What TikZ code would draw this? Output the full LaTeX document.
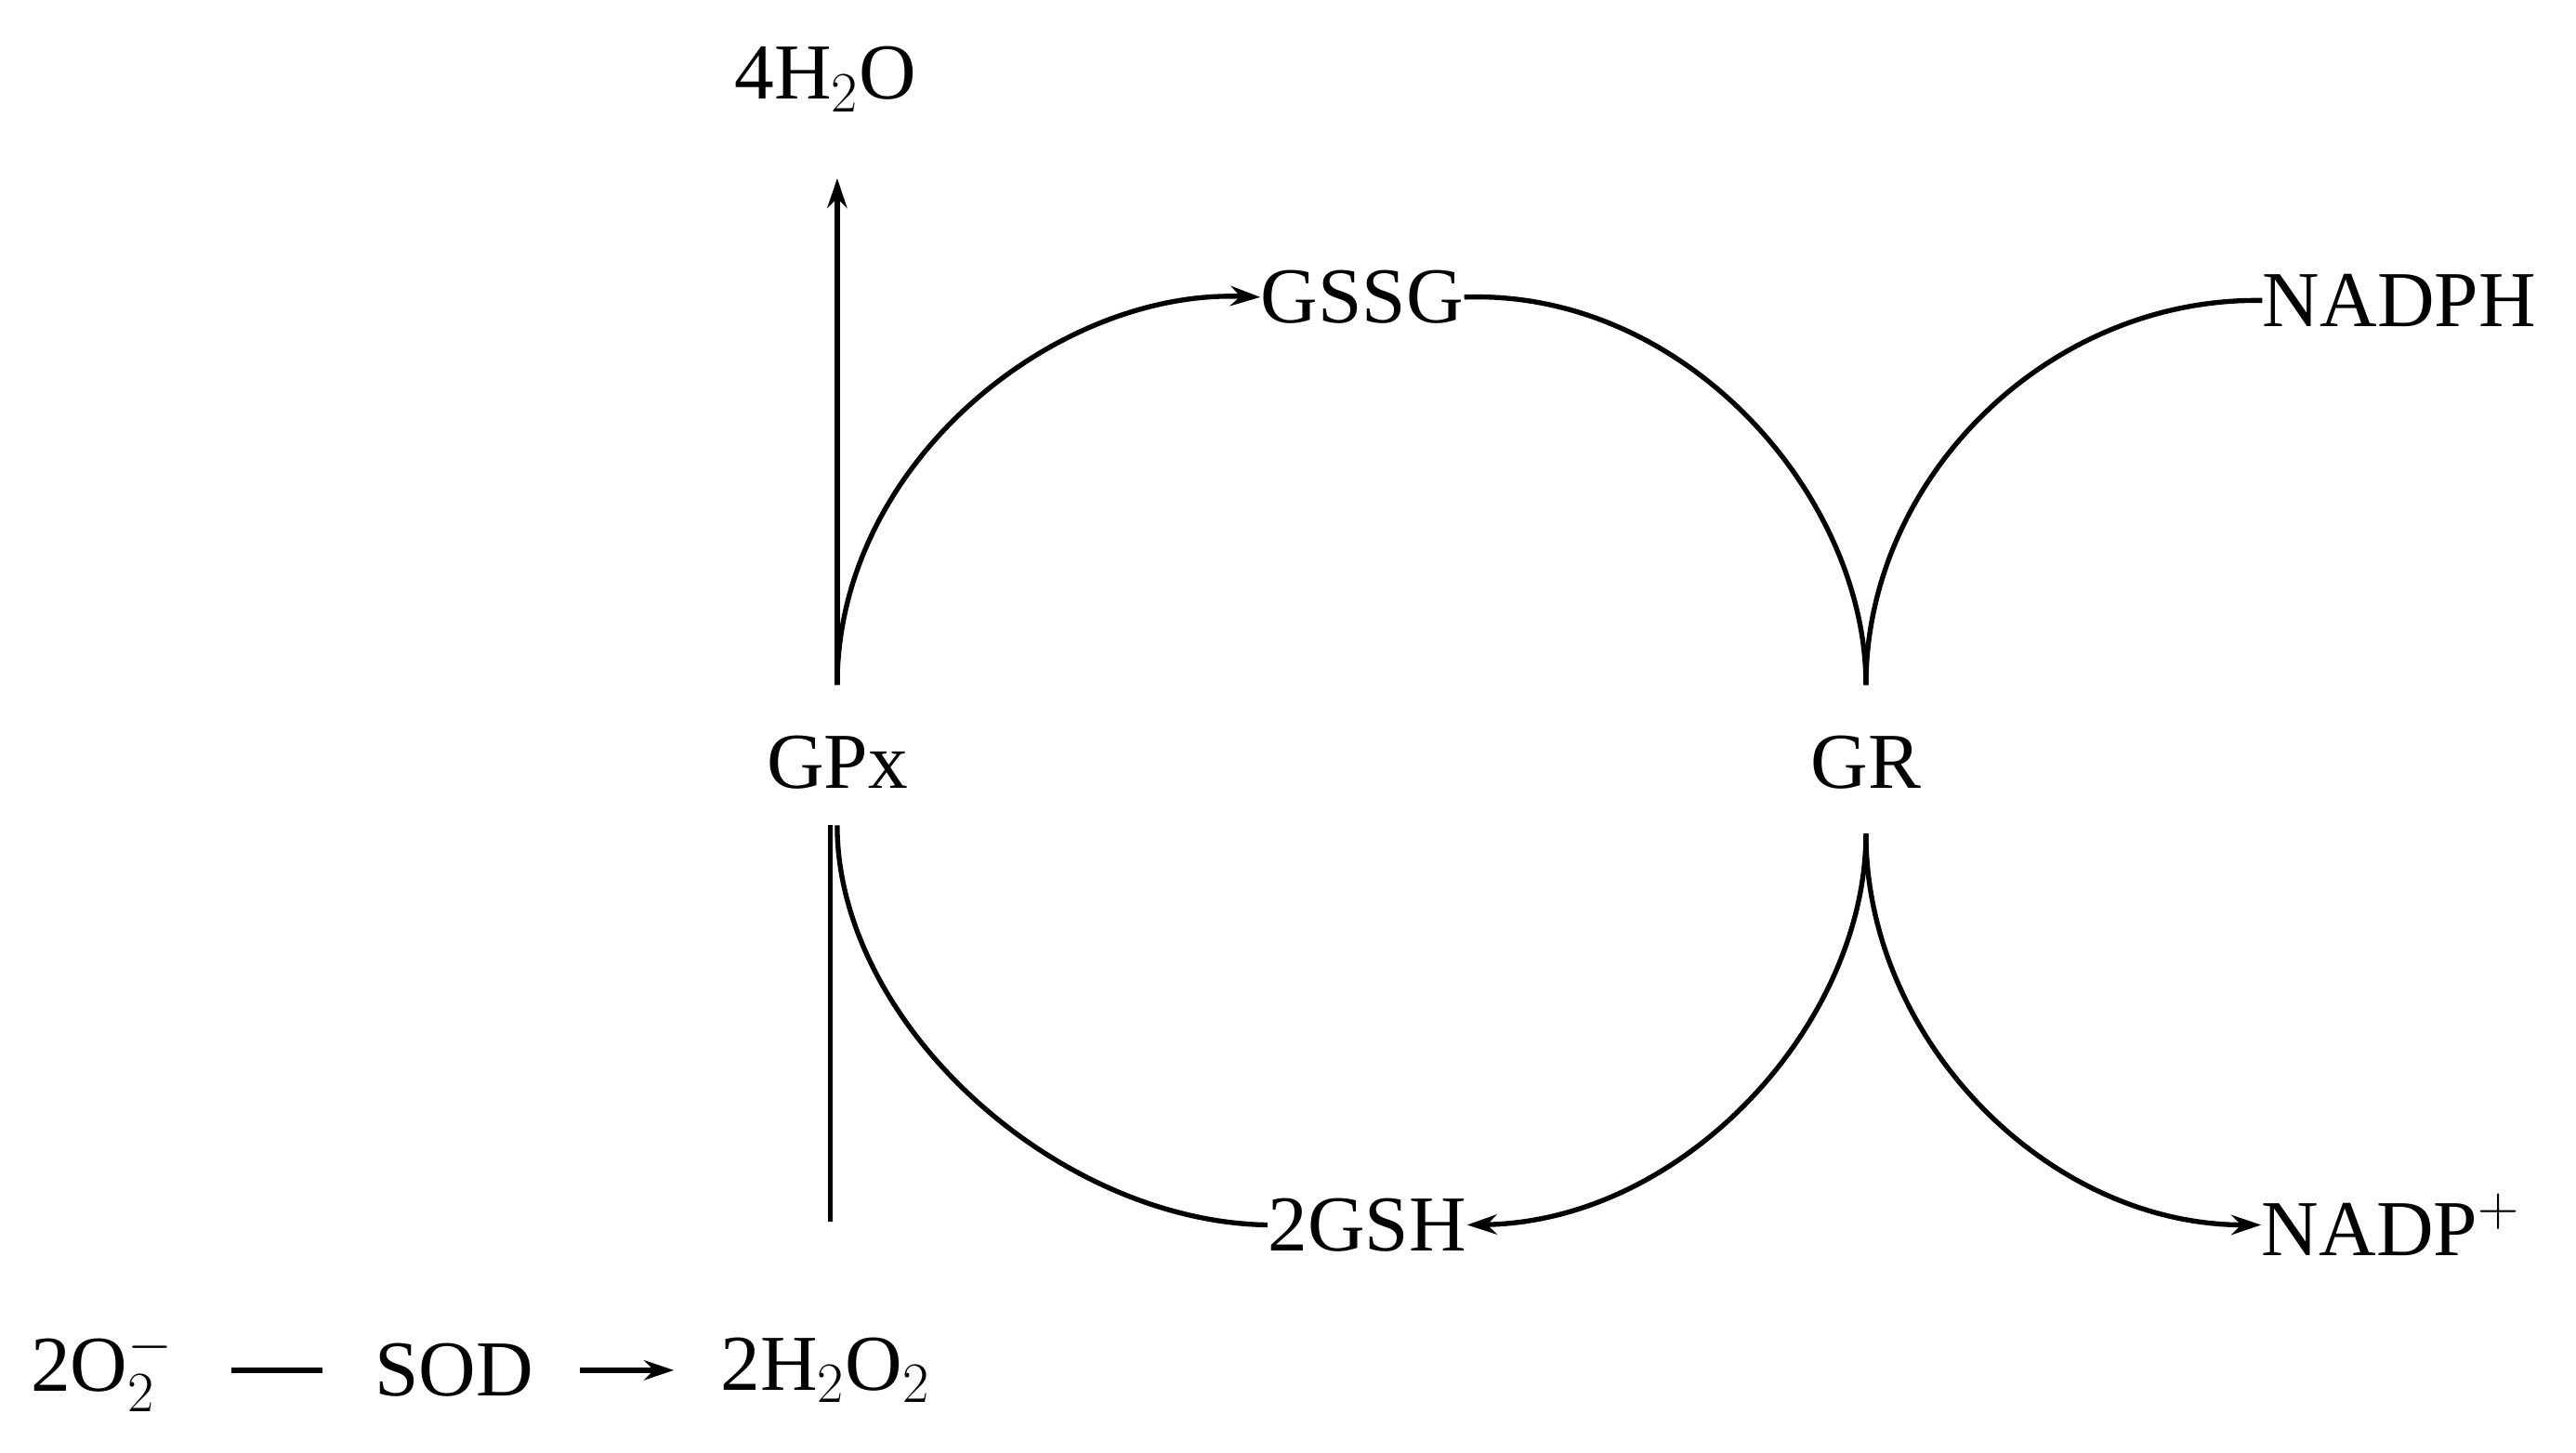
\documentclass[tikz,border=0pt]{standalone}
\usepackage{fontspec}
\setmainfont{Liberation Serif}
\usetikzlibrary{arrows.meta}
\begin{document}
\begin{tikzpicture}[x=0.5pt,y=-0.5pt,
  lbl/.style={font=\fontsize{24}{28}\selectfont, inner sep=0pt},
  ln/.style={line width=1.5pt},
  arr/.style={ln,-{Stealth[length=9pt,width=6pt]}}]
\useasboundingbox (0,0) rectangle (1560,880);
\node[lbl] (h2o) at (500,48) {4H$_2$O};
\node[lbl] (gssg) at (825,180) {GSSG};
\node[lbl] (nadph) at (1453,182) {NADPH};
\node[lbl] (gpx) at (507,462) {GPx};
\node[lbl] (gr) at (1130,462) {GR};
\node[lbl] (gsh) at (828,742) {2GSH};
\node[lbl] (nadp) at (1448,742) {NADP$^{+}$};
\node[lbl] (o2) at (62,830) {2O$_2^{-}$};
\node[lbl] (sod) at (275,830) {SOD};
\node[lbl] (h2o2) at (500,830) {2H$_2$O$_2$};
\coordinate (gpxT) at (507,415);
\coordinate (gpxB) at (507,500);
\coordinate (grT) at (1130,415);
\coordinate (grB) at (1130,505);
\coordinate (h2oB) at (507,108);
\coordinate (vB) at (503,740);
\coordinate (vT) at (503,500);
\draw[arr] (gpxT) -- (h2oB);
\draw[ln] (vB) -- (vT);
\draw[arr] (gpxT) .. controls (507,280) and (640,175) .. (gssg.west);
\draw[ln] (gssg.east) .. controls (1020,175) and (1130,300) .. (grT);
\draw[ln] (grT) .. controls (1130,290) and (1240,180) .. (nadph.west);
\draw[ln] (gpxB) .. controls (507,620) and (640,740) .. (gsh.west);
\draw[arr] (grB) .. controls (1130,620) and (1020,740) .. (gsh.east);
\draw[arr] (grB) .. controls (1130,630) and (1240,742) .. (nadp.west);
\draw[ln] ([xshift=-20]o2.east) ++(0,0) coordinate (o2e);
\draw[ln] (140,830) coordinate (a1) -- (195,830) coordinate (a2);
\draw[arr] ([xshift=14]sod.east) -- ([xshift=-14]h2o2.west);
\end{tikzpicture}
\end{document}
